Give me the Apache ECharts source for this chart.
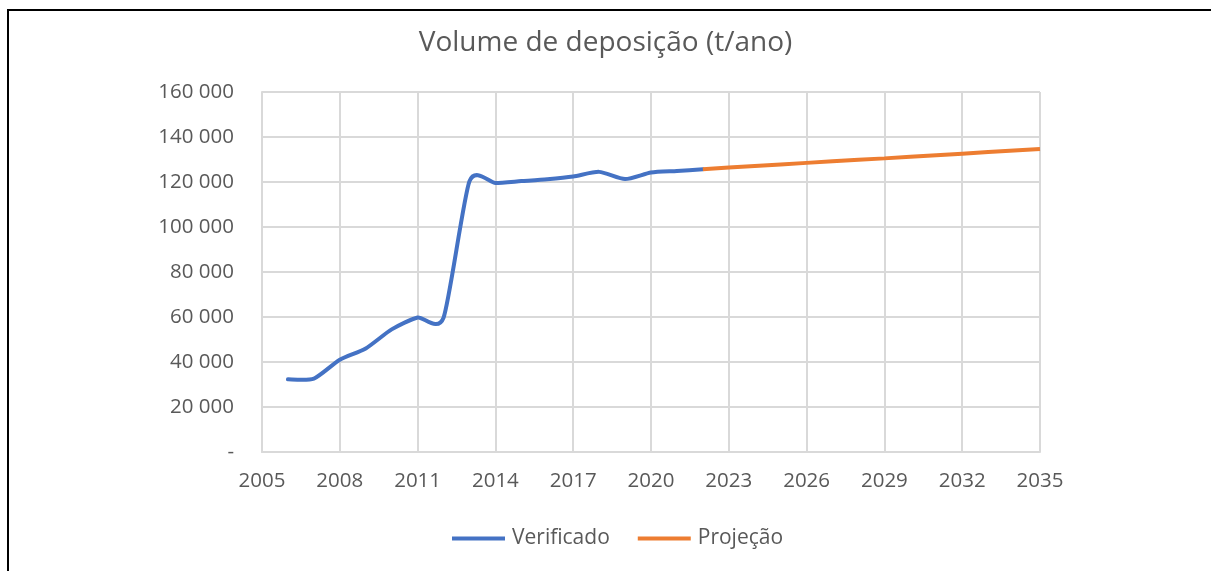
<!DOCTYPE html>
<html>
<head>
<meta charset="utf-8">
<script src="https://cdn.jsdelivr.net/npm/echarts@6/dist/echarts.min.js"></script>
<style>
  html, body { margin: 0; padding: 0; background: #fff; }
  #frame {
    position: absolute;
    left: 7px;
    top: 9px;
    width: 1204px;
    height: 562px;
    border-top: 2px solid #000;
    border-left: 2px solid #000;
    box-sizing: border-box;
  }
  #mychart { position: absolute; left: 0; top: 0; width: 1211px; height: 571px; }
</style>
</head>
<body>
<div id="frame"></div>
<div id="mychart"></div>
<script>
// valores
var anosVerificado = [2006, 2007, 2008, 2009, 2010, 2011, 2012, 2013, 2014, 2015, 2016, 2017, 2018, 2019, 2020, 2021, 2022];
var verificado = [32300, 32600, 41000, 46000, 54500, 59800, 59700, 120300, 119600, 120400, 121200, 122400, 124500, 121300, 124200, 124900, 125700];
var anosProjecao = [2022, 2023, 2024, 2025, 2026, 2027, 2028, 2029, 2030, 2031, 2032, 2033, 2034, 2035];
var projecao = [125700, 126400, 127100, 127800, 128500, 129200, 129900, 130500, 131200, 131900, 132600, 133300, 134000, 134700];

var yMin = 0, yMax = 160000, yStep = 20000;
var xMin = 2005, xMax = 2035, xStep = 3;

function pares(xs, ys) {
  var out = [];
  for (var i = 0; i < xs.length; i++) out.push([xs[i], ys[i]]);
  return out;
}

function fmtMilhar(v) {
  if (v === 0) return '-';
  return String(v).replace(/\B(?=(\d{3})+(?!\d))/g, ' ');
}

// curva suavizada tipo Excel, pontos convertidos pelo próprio eixo
var dadosVerificado = pares(anosVerificado, verificado);
function desenhaSuave(params, api) {
  if (params.dataIndex !== 0) return null;
  var p = [];
  for (var i = 0; i < dadosVerificado.length; i++) p.push(api.coord(dadosVerificado[i]));
  var t = 0.11;
  var d = 'M' + p[0][0] + ' ' + p[0][1];
  for (var k = 0; k < p.length - 1; k++) {
    var a = p[k - 1] || p[k], b = p[k], c = p[k + 1], e = p[k + 2] || p[k + 1];
    var c1x = b[0] + (c[0] - a[0]) * t, c1y = b[1] + (c[1] - a[1]) * t;
    var c2x = c[0] - (e[0] - b[0]) * t, c2y = c[1] - (e[1] - b[1]) * t;
    d += ' C' + c1x + ' ' + c1y + ' ' + c2x + ' ' + c2y + ' ' + c[0] + ' ' + c[1];
  }
  return {
    type: 'path',
    shape: { pathData: d },
    style: { fill: 'none', stroke: '#4472c4', lineWidth: 4, lineJoin: 'round', lineCap: 'round' }
  };
}

var mychart = echarts.init(document.getElementById('mychart'));
mychart.setOption({
  animation: false,
  textStyle: { fontFamily: 'Open Sans' },
  title: {
    text: 'Volume de deposição (t/ano)',
    left: 'center',
    top: 24,
    textStyle: { fontFamily: 'Open Sans', fontSize: 28, fontWeight: 'normal', color: '#595959' }
  },
  legend: {
    bottom: 17,
    left: 447,
    itemWidth: 53,
    itemHeight: 4,
    itemGap: 28,
    icon: 'rect',
    textStyle: { fontFamily: 'Open Sans', fontSize: 21, color: '#595959', padding: [0, 0, 0, 2] },
    data: ['Verificado', 'Projeção']
  },
  grid: { left: 262, right: 171, top: 92, bottom: 119, containLabel: false },
  xAxis: {
    type: 'value',
    min: xMin,
    max: xMax,
    interval: xStep,
    axisLine: { show: true, lineStyle: { color: '#d9d9d9', width: 2 } },
    axisTick: { show: false },
    splitLine: { show: true, lineStyle: { color: '#d9d9d9', width: 2 } },
    axisLabel: { margin: 19, fontSize: 20.5, color: '#595959', fontFamily: 'Open Sans', formatter: function (v) { return String(v); } }
  },
  yAxis: {
    type: 'value',
    min: yMin,
    max: yMax,
    interval: yStep,
    axisLine: { show: true, lineStyle: { color: '#d9d9d9', width: 2 } },
    axisTick: { show: false },
    splitLine: { show: true, lineStyle: { color: '#d9d9d9', width: 2 } },
    axisLabel: { margin: 28, fontSize: 20.5, color: '#595959', fontFamily: 'Open Sans', formatter: fmtMilhar }
  },
  series: [
    {
      name: 'Verificado',
      type: 'custom',
      renderItem: desenhaSuave,
      itemStyle: { color: '#4472c4' },
      clip: true,
      data: dadosVerificado,
      z: 2
    },
    {
      name: 'Projeção',
      type: 'line',
      showSymbol: false,
      lineStyle: { color: '#ed7d31', width: 4 },
      itemStyle: { color: '#ed7d31' },
      data: pares(anosProjecao, projecao),
      z: 3
    }
  ]
});
</script>
</body>
</html>
